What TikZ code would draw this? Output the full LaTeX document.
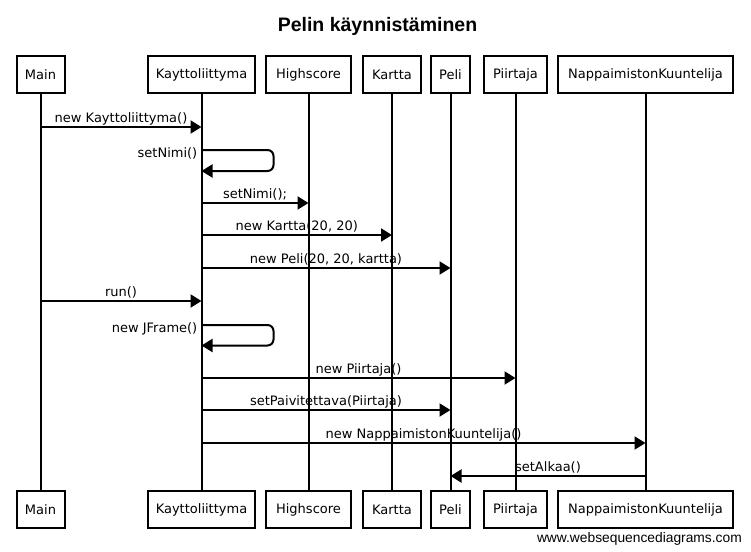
\documentclass[tikz,border=0pt]{standalone}
\usepackage{fontspec}
\setmainfont{Liberation Sans}
\newfontfamily\labfont{DejaVu Sans}
\usetikzlibrary{arrows.meta}
\begin{document}
\begin{tikzpicture}[x=1pt,y=-1pt,
  obj/.style={draw, line width=2pt, minimum height=37pt, inner sep=0pt, font={\labfont\fontsize{13}{15}\selectfont}},
  lifeline/.style={line width=2pt},
  msg/.style={line width=2pt, -{Triangle[length=11pt,width=13pt]}},
  lbl/.style={font={\labfont\fontsize{13}{15}\selectfont}, inner sep=0pt},
  mlbl/.style={lbl, midway, anchor=base, yshift=4.5pt}]
\useasboundingbox[fill=white] (0,0) rectangle (751,551);
% title
\node[font={\bfseries\fontsize{19.5}{22}\selectfont}, anchor=base, inner sep=0pt] (title) at (377.5,32) {Pelin käynnistäminen};
% top boxes
\node[obj, minimum width=48pt]  (mainT) at (40.5,74.5)  {Main};
\node[obj, minimum width=107pt] (kayT)  at (201.5,74.5) {Kayttoliittyma};
\node[obj, minimum width=85pt]  (highT) at (308.5,74.5) {Highscore};
\node[obj, minimum width=58pt]  (karT)  at (392,74.5)   {Kartta};
\node[obj, minimum width=39pt]  (peliT) at (450.5,74.5) {Peli};
\node[obj, minimum width=63pt]  (piiT)  at (515.5,74.5) {Piirtaja};
\node[obj, minimum width=175pt] (napT)  at (645.5,74.5) {NappaimistonKuuntelija};
% bottom boxes
\node[obj, minimum width=48pt]  (mainB) at (40.5,509.5)  {Main};
\node[obj, minimum width=107pt] (kayB)  at (201.5,509.5) {Kayttoliittyma};
\node[obj, minimum width=85pt]  (highB) at (308.5,509.5) {Highscore};
\node[obj, minimum width=58pt]  (karB)  at (392,509.5)   {Kartta};
\node[obj, minimum width=39pt]  (peliB) at (450.5,509.5) {Peli};
\node[obj, minimum width=63pt]  (piiB)  at (515.5,509.5) {Piirtaja};
\node[obj, minimum width=175pt] (napB)  at (645.5,509.5) {NappaimistonKuuntelija};
% lifelines
\draw[lifeline] (mainT.south) -- (mainB.north);
\draw[lifeline] (kayT.south) -- (kayB.north);
\draw[lifeline] (highT.south) -- (highB.north);
\draw[lifeline] (karT.south) -- (karB.north);
\draw[lifeline] (peliT.south) -- (peliB.north);
\draw[lifeline] (piiT.south) -- (piiB.north);
\draw[lifeline] (napT.south) -- (napB.north);
% messages
\draw[msg] (mainT.south |- 0,127) -- node[mlbl] {new Kayttoliittyma()} (kayT.south |- 0,127);
\draw[msg, rounded corners=6pt] (kayT.south |- 0,150) -- ++(72,0) -- ++(0,21) -- (kayT.south |- 0,171);
\node[lbl, anchor=base east, xshift=-4pt] (l2) at (kayT.south |- 0,157) {setNimi()};
\draw[msg] (kayT.south |- 0,203) -- node[mlbl] {setNimi();} (highT.south |- 0,203);
\draw[msg] (kayT.south |- 0,235) -- node[mlbl] {new Kartta(20, 20)} (karT.south |- 0,235);
\draw[msg] (kayT.south |- 0,268) -- node[mlbl] {new Peli(20, 20, kartta)} (peliT.south |- 0,268);
\draw[msg] (mainT.south |- 0,301) -- node[mlbl] {run()} (kayT.south |- 0,301);
\draw[msg, rounded corners=6pt] (kayT.south |- 0,325) -- ++(72,0) -- ++(0,20.5) -- (kayT.south |- 0,345.5);
\node[lbl, anchor=base east, xshift=-4pt] (l7) at (kayT.south |- 0,332) {new JFrame()};
\draw[msg] (kayT.south |- 0,378) -- node[mlbl] {new Piirtaja()} (piiT.south |- 0,378);
\draw[msg] (kayT.south |- 0,410) -- node[mlbl] {setPaivitettava(Piirtaja)} (peliT.south |- 0,410);
\draw[msg] (kayT.south |- 0,443) -- node[mlbl] {new NappaimistonKuuntelija()} (napT.south |- 0,443);
\draw[msg] (napT.south |- 0,476) -- node[mlbl] {setAlkaa()} (peliT.south |- 0,476);
% watermark
\node[font={\fontsize{13.8}{16}\selectfont}, anchor=base east, inner sep=0pt] (wm) at (742,542) {www.websequencediagrams.com};
\end{tikzpicture}
\end{document}
